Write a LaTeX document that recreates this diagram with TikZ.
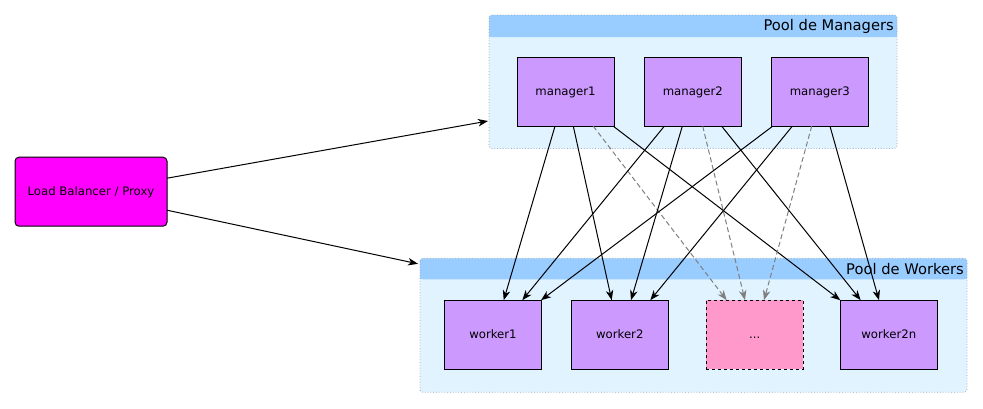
\documentclass[tikz,border=0pt]{standalone}
\usepackage{fontspec}
\setmainfont{DejaVu Sans}
\usetikzlibrary{arrows.meta,calc}
\definecolor{hdr}{HTML}{99CCFF}
\definecolor{poolbg}{HTML}{E1F3FF}
\definecolor{boxfill}{HTML}{CC99FF}
\definecolor{pinkfill}{HTML}{FF99CC}
\definecolor{lbfill}{HTML}{FF00FF}
\definecolor{pooledge}{HTML}{9AA9BC}
\definecolor{dasharrow}{HTML}{808080}
\begin{document}
\begin{tikzpicture}[x=1pt,y=-1pt,
  pool/.style={fill=poolbg, rounded corners=3pt, inner sep=0pt, outer sep=0pt},
  pooltitle/.style={anchor=east, inner sep=0pt, font=\fontsize{14.7}{17}\selectfont},
  srv/.style={draw=black, line width=1pt, fill=boxfill, minimum width=97pt, minimum height=69pt, inner sep=0pt, outer sep=0pt, text height=8.5pt, text depth=0pt, font=\fontsize{11.7}{14}\selectfont},
  more/.style={srv, fill=pinkfill, dashed},
  lbbox/.style={draw=black, line width=1pt, fill=lbfill, rounded corners=4pt, minimum width=152pt, minimum height=69pt, inner sep=0pt, outer sep=0pt, text height=8.5pt, text depth=0pt, font=\fontsize{11.7}{14}\selectfont},
  arr/.style={draw=black, line width=1pt, -{Stealth[length=10pt,width=7.5pt,inset=3pt]}},
  darr/.style={draw=dasharrow, line width=1pt, dash pattern=on 5pt off 3pt, -{Stealth[length=10pt,width=7.5pt,inset=3pt]}},
]
\useasboundingbox (0,0) rectangle (983,408);
\fill[white] (0,0) rectangle (983,408);

% pools
\node[pool, minimum width=408pt, minimum height=133.5pt] (pm) at (693,81.75) {};
\fill[hdr, rounded corners=3pt] (pm.north west) rectangle ($(pm.north east)+(0,22)$);
\fill[hdr] ($(pm.north west)+(0,8)$) rectangle ($(pm.north east)+(0,22)$);
\draw[pooledge, dotted, line width=0.8pt, rounded corners=3pt] (pm.north west) rectangle (pm.south east);
\node[pooltitle] (pmt) at ($(pm.north east)+(-3,11.5)$) {Pool de Managers};

\node[pool, minimum width=547pt, minimum height=134pt] (pw) at (693.5,325.3) {};
\fill[hdr, rounded corners=3pt] (pw.north west) rectangle ($(pw.north east)+(0,21)$);
\fill[hdr] ($(pw.north west)+(0,8)$) rectangle ($(pw.north east)+(0,21)$);
\draw[pooledge, dotted, line width=0.8pt, rounded corners=3pt] (pw.north west) rectangle (pw.south east);
\node[pooltitle] (pwt) at ($(pw.north east)+(-3,11)$) {Pool de Workers};

% boxes
\node[lbbox] (lb) at (91,191.7) {Load Balancer / Proxy};
\node[srv] (m1) at (565.5,91.7) {manager1};
\node[srv] (m2) at (692.8,91.7) {manager2};
\node[srv] (m3) at (819.8,91.7) {manager3};
\node[srv] (w1) at (493,334.7) {worker1};
\node[srv] (w2) at (619.8,334.7) {worker2};
\node[more] (wd) at (754.8,334.7) {...};
\node[srv] (wn) at (888.8,334.7) {worker2n};

% load balancer links
\draw[arr] ($(lb.north east)+(0,21)$) -- ($(pm.north west)+(-1,106)$);
\draw[arr] ($(lb.north east)+(0,53)$) -- ($(pw.north west)+(-2,5.5)$);

% manager1
\draw[arr] ($(m1.south west)+(38,0)$) -- ($(w1.north west)+(59.2,0)$);
\draw[arr] ($(m1.south west)+(56.3,0)$) -- ($(w2.north west)+(40.4,0)$);
\draw[darr] ($(m1.south west)+(76.3,0)$) -- ($(wd.north west)+(20.4,0)$);
\draw[arr] ($(m1.south west)+(96.3,0)$) -- ($(wn.north west)+(0,0)$);
% manager2
\draw[arr] ($(m2.south west)+(20,0)$) -- ($(w1.north west)+(77.8,0)$);
\draw[arr] ($(m2.south west)+(38,0)$) -- ($(w2.north west)+(59.7,0)$);
\draw[darr] ($(m2.south west)+(58.4,0)$) -- ($(wd.north west)+(38.7,0)$);
\draw[arr] ($(m2.south west)+(77.4,0)$) -- ($(wn.north west)+(20.4,0)$);
% manager3
\draw[arr] ($(m3.south west)+(1.4,0)$) -- ($(w1.north west)+(96.5,0)$);
\draw[arr] ($(m3.south west)+(21,0)$) -- ($(w2.north west)+(79,0)$);
\draw[darr] ($(m3.south west)+(40.4,0)$) -- ($(wd.north west)+(57.7,0)$);
\draw[arr] ($(m3.south west)+(58.7,0)$) -- ($(wn.north west)+(38.7,0)$);
\end{tikzpicture}
\end{document}
